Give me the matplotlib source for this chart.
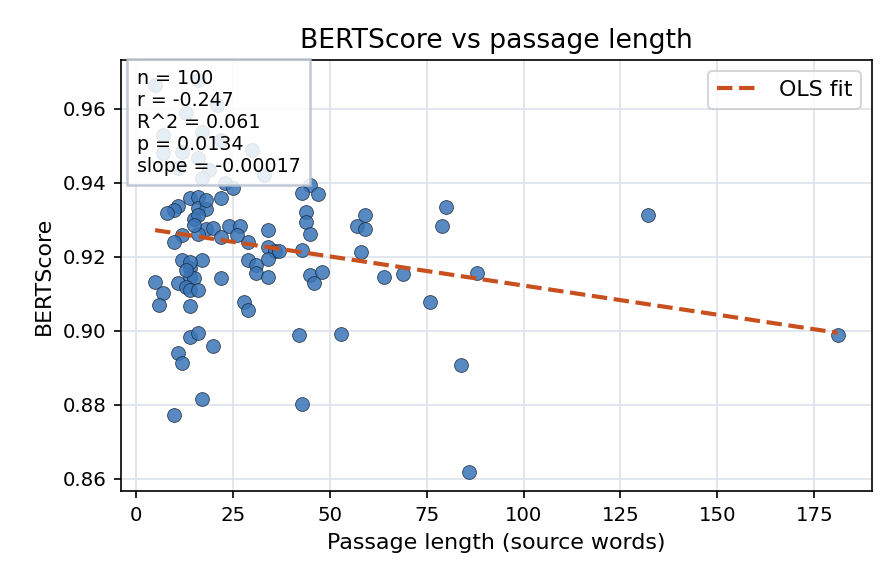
import numpy as np
import matplotlib
matplotlib.use("Agg")
from matplotlib import pyplot as plt

# passage length (source words) and BERTScore
length = [5, 16, 13, 21, 7, 17, 22, 7, 12, 16, 30, 11, 19, 33, 17, 23, 25,
          14, 16, 22, 11, 10, 8, 16, 18, 15, 18, 20, 24, 27, 34, 12, 16, 10,
          22, 29, 34, 36, 12, 17, 14, 29, 31, 34, 14, 15, 5, 22, 31, 34, 11,
          13, 14, 7, 6, 14, 28, 29, 14, 16, 20, 11, 12, 17, 10, 43, 42, 53,
          45, 43, 47, 44, 44, 45, 37, 43, 45, 48, 46, 59, 57, 59, 58, 64, 69,
          80, 79, 88, 76, 84, 86, 132, 181, 16, 15, 14, 16, 13, 18, 26]
bertscore = [0.9665, 0.9679, 0.9589, 0.9611, 0.9530, 0.9538, 0.9516, 0.9481,
             0.9483, 0.9467, 0.9489, 0.9440, 0.9435, 0.9421, 0.9413, 0.9399,
             0.9386, 0.9359, 0.9362, 0.9359, 0.9337, 0.9326, 0.9318, 0.9332,
             0.9329, 0.9302, 0.9275, 0.9278, 0.9283, 0.9283, 0.9272, 0.9259,
             0.9261, 0.9240, 0.9253, 0.9240, 0.9226, 0.9215, 0.9191, 0.9191,
             0.9169, 0.9191, 0.9177, 0.9193, 0.9145, 0.9142, 0.9131, 0.9142,
             0.9156, 0.9145, 0.9128, 0.9118, 0.9110, 0.9101, 0.9069, 0.9066,
             0.9077, 0.9055, 0.8982, 0.8993, 0.8960, 0.8939, 0.8912, 0.8814,
             0.8771, 0.8801, 0.8988, 0.8990, 0.9394, 0.9372, 0.9370, 0.9321,
             0.9294, 0.9261, 0.9215, 0.9218, 0.9150, 0.9158, 0.9128, 0.9313,
             0.9283, 0.9275, 0.9212, 0.9145, 0.9153, 0.9334, 0.9283, 0.9156,
             0.9077, 0.8906, 0.8619, 0.9313, 0.8988, 0.9313, 0.9286, 0.9185,
             0.9110, 0.9164, 0.9353, 0.9259]

stats_lines = ["n = 100", "r = -0.247", "R^2 = 0.061", "p = 0.0134",
               "slope = -0.00017"]

x = np.array(length, dtype=float)
y = np.array(bertscore)
slope, intercept = np.polyfit(x, y, 1)
xs = np.linspace(x.min(), x.max(), 100)

fig, ax = plt.subplots(figsize=(896 / 150, 584 / 150), dpi=150)
fig.subplots_adjust(left=0.135, right=0.973, top=0.897, bottom=0.159)

ax.grid(True, color='#dde3ec', linewidth=0.8)
ax.set_axisbelow(True)
ax.scatter(x, y, s=44, color='#3a75b8', alpha=0.85, edgecolors='#1c2a3a',
           linewidths=0.4, zorder=2)
ax.plot(xs, slope * xs + intercept, '--', color='#c8501e', lw=2,
        label='OLS fit', zorder=3)

ax.set_title('BERTScore vs passage length', fontsize=12.8)
ax.set_xlabel('Passage length (source words)', fontsize=10.6)
ax.set_ylabel('BERTScore', fontsize=10.6)
ax.tick_params(labelsize=9.5)
ax.legend(loc='upper right', fontsize=10.6)

ax.text(0.021, 0.98, "\n".join(stats_lines), transform=ax.transAxes,
        va='top', ha='left', fontsize=9.1, linespacing=1.2, zorder=4,
        bbox=dict(boxstyle='square,pad=0.5', facecolor='white', alpha=0.86,
                  edgecolor='#b5c0ce', linewidth=1.2))

fig.savefig('out.png', dpi=150)
